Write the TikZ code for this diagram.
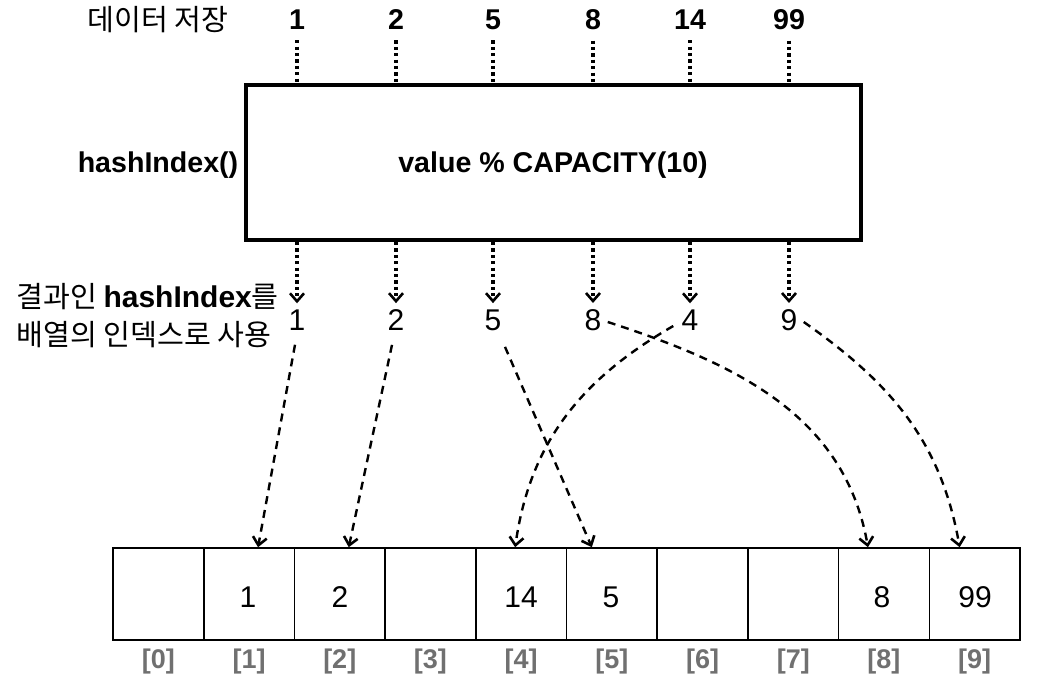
\documentclass[tikz,border=0pt]{standalone}
\usepackage{fontspec}
\setmainfont{Liberation Sans}
\newfontfamily\kr{Noto Sans CJK KR}
\usetikzlibrary{arrows.meta,calc}
\definecolor{idxgray}{HTML}{707070}
\begin{document}
\begin{tikzpicture}[x=0.5pt,y=-0.5pt,
  txt/.style={inner sep=0pt,font=\fontsize{15}{18}\selectfont},
  krtxt/.style={inner sep=0pt,font=\fontsize{14.6}{18}\selectfont\kr},
  btxt/.style={inner sep=0pt,font=\fontsize{14.3}{17}\selectfont\bfseries},
  idx/.style={inner sep=0pt,text=idxgray,font=\fontsize{13.5}{16}\selectfont\bfseries},
  cell/.style={draw,line width=0.8pt,minimum width=45.35pt,minimum height=46pt,inner sep=0pt},
  hbox/.style={draw,line width=2pt,minimum width=307.5pt,minimum height=77.5pt,inner sep=0pt},
  dotln/.style={line width=1.6pt,dash pattern=on 1.6pt off 1.6pt},
  dotarr/.style={dotln,-{Straight Barb[length=4pt,width=7pt,line width=1.3pt]}},
  dasharr/.style={line width=1.2pt,dash pattern=on 4pt off 3pt,-{Straight Barb[length=4pt,width=7pt,line width=1.3pt]}}
]
\useasboundingbox (0,0) rectangle (1044,690);
% labels on the left
\node[krtxt] (lstore) at (158,20) {데이터 저장};
\node[btxt] (lhash) at (158,165) {hashIndex()};
\node[krtxt,anchor=west,align=left] (lres) at (16,316) {결과인 {\fontspec{Liberation Sans}\bfseries\fontsize{15}{18}\selectfont hashIndex}를\\[1pt]배열의 인덱스로 사용};
% top values
\node[btxt] (t1) at (297,20) {1};
\node[btxt] (t2) at (396,20) {2};
\node[btxt] (t3) at (493,20) {5};
\node[btxt] (t4) at (593,20) {8};
\node[btxt] (t5) at (690,20) {14};
\node[btxt] (t6) at (789,20) {99};
% hash box
\node[hbox] (box) at (553.5,162.5) {};
\node[btxt] (func) at (553,165) {value \% CAPACITY(10)};
% result values
\node[txt] (r1) at (297,320) {1};
\node[txt] (r2) at (396,320) {2};
\node[txt] (r3) at (493,320) {5};
\node[txt] (r4) at (593,320) {8};
\node[txt] (r5) at (690,320) {4};
\node[txt] (r6) at (789,320) {9};
% dotted lines into box
\foreach \t in {t1,t2,t3,t4,t5,t6}
  \draw[dotln,shorten <=5pt] (\t.south) -- (\t.south |- box.north);
% dotted arrows out of box
\foreach \r in {r1,r2,r3,r4,r5,r6}
  \draw[dotarr,shorten >=3pt] (\r.north |- box.south) -- (\r.north);
% array
\foreach \i in {0,...,9} {
  \node[cell] (c\i) at ({113+90.7*(\i+0.5)},594) {};
  \node[idx] (i\i) at ({113+90.7*(\i+0.5)},662) {[\i]};
}
\node[txt] (v1) at (248,597) {1};
\node[txt] (v2) at (340,597) {2};
\node[txt] (v4) at (521,597) {14};
\node[txt] (v5) at (611,597) {5};
\node[txt] (v8) at (882,597) {8};
\node[txt] (v9) at (975,597) {99};
% mapping arrows
\draw[dasharr] ($(r1.south)+(-2,14)$) -- ($(c1.north)+(9,0)$);
\draw[dasharr] ($(r2.south)+(-4,14)$) -- ($(c2.north)+(9,0)$);
\draw[dasharr] ($(r3.south)+(12,16)$) -- ($(c5.north)+(-20,0)$);
\draw[dasharr] ($(r5.west)+(-8,6)$) to[out=-150,in=82] ($(c4.north)+(-6,0)$);
\draw[dasharr] ($(r4.east)+(6,2)$) to[out=-18,in=100] ($(c8.north)+(-16,0)$);
\draw[dasharr] ($(r6.east)+(6,2)$) to[out=-35,in=100] ($(c9.north)+(-15,0)$);
\end{tikzpicture}
\end{document}
